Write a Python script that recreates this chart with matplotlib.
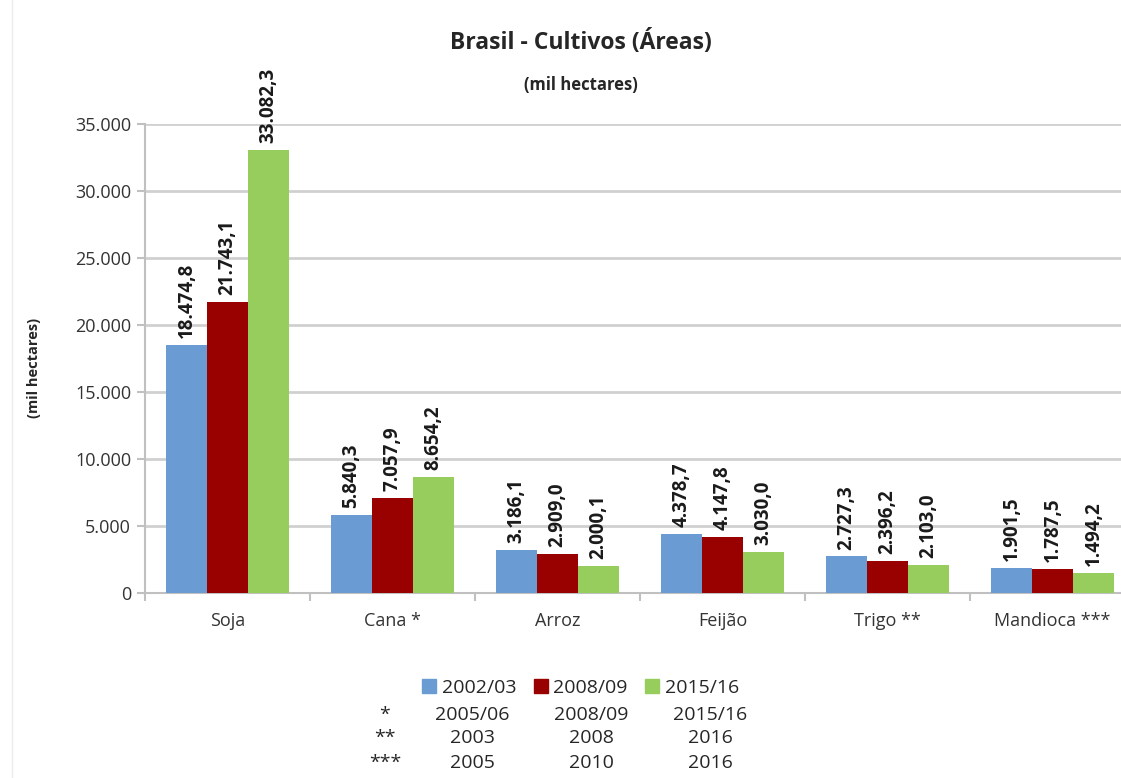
import matplotlib.pyplot as plt
from matplotlib.ticker import FuncFormatter, FixedLocator
from matplotlib.patches import Patch
import numpy as np

# áreas plantadas (mil hectares)
culturas = ['Soja', 'Cana *', 'Arroz', 'Feijão', 'Trigo **', 'Mandioca ***']
safras = ['2002/03', '2008/09', '2015/16']
area_2002 = [18474.8, 5840.3, 3186.1, 4378.7, 2727.3, 1901.5]
area_2008 = [21743.1, 7057.9, 2909.0, 4147.8, 2396.2, 1787.5]
area_2015 = [33082.3, 8654.2, 2000.1, 3030.0, 2103.0, 1494.2]
cores = ['#6a9bd2', '#990000', '#96cd5c']

# anos de referência das culturas marcadas com asterisco
notas = [
    ['*', '2005/06', '2008/09', '2015/16'],
    ['**', '2003', '2008', '2016'],
    ['***', '2005', '2010', '2016'],
]

plt.rcParams['font.family'] = ['Open Sans', 'DejaVu Sans']


def br(v, casas=1):
    s = f'{v:,.{casas}f}'
    return s.replace(',', 'X').replace('.', ',').replace('X', '.')


fig = plt.figure(figsize=(11.21, 7.78), dpi=100)
ax = fig.add_axes([145 / 1121, 185 / 778, 990 / 1121, 469 / 778])

x = np.arange(len(culturas))
larg = 0.248
series = [area_2002, area_2008, area_2015]
for i, (vals, cor, nome) in enumerate(zip(series, cores, safras)):
    barras = ax.bar(x + (i - 1) * larg, vals, larg, color=cor, label=nome, zorder=3)
    ax.bar_label(barras, labels=[br(v) for v in vals], rotation=90, padding=5,
                 fontsize=13.5, fontweight='bold', color='#1a1a1a')

ax.set_xlim(-0.5, 5.5)
ax.set_ylim(0, 35000)
ax.set_yticks(range(0, 35001, 5000))
ax.yaxis.set_major_formatter(FuncFormatter(lambda v, p: br(v, 0)))
ax.grid(axis='y', color='#d0d0d0', linewidth=2, zorder=0)

ax.set_xticks(x)
ax.set_xticklabels(culturas)
ax.xaxis.set_minor_locator(FixedLocator(np.arange(-0.5, 6, 1)))
ax.tick_params(axis='x', which='major', length=0, pad=14, labelsize=13, labelcolor='#333333')
ax.tick_params(axis='x', which='minor', length=6, width=1.5, color='#c0c0c0')
ax.tick_params(axis='y', length=6, width=1.5, color='#c0c0c0', pad=4,
               labelsize=13, labelcolor='#333333')

for lado in ['top', 'right']:
    ax.spines[lado].set_visible(False)
for lado in ['left', 'bottom']:
    ax.spines[lado].set_color('#c0c0c0')
    ax.spines[lado].set_linewidth(1.5)

ax.set_ylabel('(mil hectares)', fontsize=10.5, fontweight='bold', color='#262626')
ax.yaxis.set_label_coords(-104 / 990, 0.48)

fig.text(0.518, 1 - 42 / 778, 'Brasil - Cultivos (Áreas)', ha='center', va='center',
         fontsize=16.5, fontweight='bold', color='#262626')
fig.text(0.518, 1 - 85 / 778, '(mil hectares)', ha='center', va='center',
         fontsize=12, fontweight='bold', color='#262626')

# legenda com as safras
handles = [Patch(color=c) for c in cores]
fig.legend(handles, safras, loc='center', bbox_to_anchor=(0.518, 1 - 688 / 778),
           ncol=3, frameon=False, fontsize=14, handlelength=0.7, handleheight=0.7,
           handletextpad=0.3, columnspacing=0.9, labelcolor='#262626')

# tabela de notas abaixo da legenda
col_x = [385, 472, 591, 710]
lin_y = [715, 738, 763]
for linha, yy in zip(notas, lin_y):
    for txt, xx in zip(linha, col_x):
        fig.text(xx / 1121, 1 - yy / 778, txt, ha='center', va='center',
                 fontsize=14, color='#262626')

# borda clara do gráfico
fig.add_artist(plt.Line2D([12 / 1121, 12 / 1121], [0, 1], color='#ececec', linewidth=1))

fig.savefig('out.png', dpi=100)
